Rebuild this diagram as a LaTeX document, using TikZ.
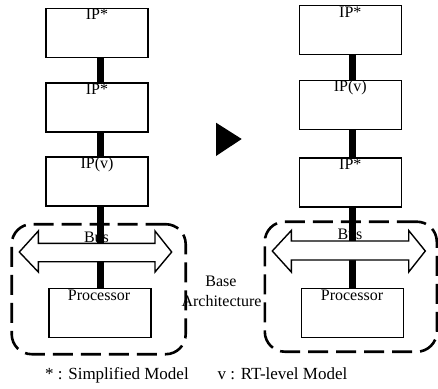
\documentclass[tikz,border=0pt]{standalone}
\usepackage{fontspec}
\setmainfont{Liberation Serif}
\usetikzlibrary{calc}
\begin{document}
\begin{tikzpicture}[x=1pt,y=-1pt,
  ipbox/.style={draw,line width=1.6pt,minimum width=102pt,minimum height=49pt,inner sep=0pt,outer sep=0pt},
  procbox/.style={draw,line width=1.2pt,minimum width=102pt,minimum height=49pt,inner sep=0pt,outer sep=0pt},
  lbl/.style={anchor=base,inner sep=0pt,font=\fontsize{16}{19}\selectfont},
  foot/.style={anchor=base west,inner sep=0pt,font=\fontsize{17}{20}\selectfont},
  bar/.style={line width=7pt},
  busarrow/.style={draw,line width=1.4pt,fill=white,line join=miter},
  basebox/.style={draw,line width=2.6pt,dash pattern=on 20pt off 8pt,rounded corners=20pt}]
\useasboundingbox (0,0) rectangle (438,388);

% ---- left column ----
\node[basebox,minimum width=174pt,minimum height=130pt] (lbase) at (98.7,289.2) {};
\node[ipbox] (b1) at (97,32.8) {};
\node[ipbox] (b2) at (97,107.5) {};
\node[ipbox] (b3) at (97,181.5) {};
\node[procbox] (lp) at (100,312.8) {};
\node[lbl] (lbus) at (96.5,242.5) {Bus};
\draw[bar] (b1.south -| lp.north) -- (b2.north -| lp.north);
\draw[bar] (b2.south -| lp.north) -- (b3.north -| lp.north);
\draw[bar] (b3.south -| lp.north) -- (lp.north);
\path[busarrow] (19.3,252) -- (38.3,231) -- (38.3,243.3) -- (155,243.3) -- (155,231)
  -- (171.7,252) -- (155,272) -- (155,261.7) -- (38.3,261.7) -- (38.3,272) -- cycle;
\node[lbl] (t1) at ($(b1.north)+(0,11.2)$) {IP*};
\node[lbl] (t2) at ($(b2.north)+(0,11.2)$) {IP*};
\node[lbl] (t3) at ($(b3.north)+(0,11.2)$) {IP(v)};
\node[lbl] (tp) at ($(lp.north)+(-1,11.7)$) {Processor};

% ---- right column ----
\node[basebox,minimum width=172pt,minimum height=130pt] (rbase) at (350.8,286.7) {};
\node[ipbox] (c1) at (350.3,30) {};
\node[ipbox] (c2) at (350.3,105) {};
\node[ipbox] (c3) at (350.3,182.5) {};
\node[procbox] (rp) at (352.5,312.8) {};
\node[lbl] (rbus) at (350,239) {Bus};
\draw[bar] (c1.south -| rp.north) -- (c2.north -| rp.north);
\draw[bar] (c2.south -| rp.north) -- (c3.north -| rp.north);
\draw[bar] (c3.south -| rp.north) -- (rp.north);
\path[busarrow] (272.3,251) -- (291.3,230.5) -- (291.3,241) -- (408.7,241) -- (408.7,230.5)
  -- (425.3,251) -- (408.7,272) -- (408.7,260) -- (291.3,260) -- (291.3,272) -- cycle;
\node[lbl] (s1) at ($(c1.north)+(0,11.6)$) {IP*};
\node[lbl] (s2) at ($(c2.north)+(0,11)$) {IP(v)};
\node[lbl] (s3) at ($(c3.north)+(0,11)$) {IP*};
\node[lbl] (sp) at ($(rp.north)+(-0.5,11.7)$) {Processor};

% ---- middle ----
\fill (216,122.7) -- (241.7,139) -- (216,156) -- cycle;
\node[lbl] (base1) at (221,286.7) {Base};
\node[lbl] (base2) at (221.5,306.7) {Architecture};

% ---- footer ----
\node[foot] (f1) at (45,379.5) {* : Simplified Model};
\node[foot] (f2) at (217.5,379.5) {v : RT-level Model};
\end{tikzpicture}
\end{document}
